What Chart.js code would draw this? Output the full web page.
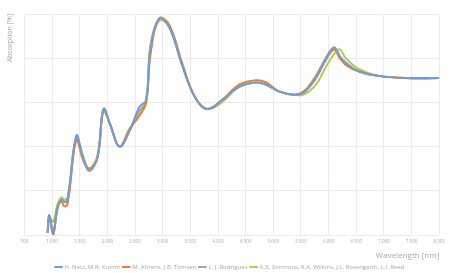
<!DOCTYPE html>
<html>
<head>
<meta charset="utf-8">
<script src="https://cdn.jsdelivr.net/npm/chart.js@4"></script>
<style>
  html, body { margin: 0; padding: 0; background: #fff; }
  #wrap { width: 449px; height: 273px; }
</style>
</head>
<body>
<div id="wrap"><canvas id="myChart"></canvas></div>
<script>
let xTicks = [500, 1000, 1500, 2000, 2500, 3000, 3500, 4000, 4500, 5000, 5500, 6000, 6500, 7000, 7500, 8000];
let seriesNames = [
  "H. Netz, M.R. Kumm",
  "M. Ahrens, J.B. Tomsen",
  "L. J. Rodrigues",
  "A.B. Simmons, R.A. Wilkins, J.L. Rosengarth, L.I. Reed",
];
let seriesColors = ["#6f9fd8", "#ed7d31", "#a5a5a5", "#b5cc4a"];

let wavelength = [920, 950, 1020, 1100, 1170, 1220, 1280, 1440, 1560, 1670, 1820, 1930, 2050, 2220, 2400, 2580, 2700, 2780, 2940, 3120, 3350, 3570, 3800, 4070, 4380, 4690, 4870, 5100, 5370, 5550, 5770, 5950, 6100, 6200, 6310, 6550, 6900, 7400, 8000];
let netzData = [1, 9, 1, 12, 16, 15, 16, 45, 35, 29, 35, 57, 50, 40, 47, 58, 61, 85, 98, 94, 77, 63, 57, 61, 67, 69, 68, 65, 63.5, 64.5, 71, 80, 85, 81, 78, 74, 72, 71, 71];
let ahrensData = [1, 9, 0, 13, 15, 13, 14, 43, 34, 30, 35, 56, 50, 40, 48, 54, 60, 82, 98, 95, 78, 63, 57, 61, 68, 70, 69, 65, 63.5, 65, 72, 80, 84, 80, 77, 74, 72, 71, 71];
let lopezData = [1, 9, 1, 12, 16, 15, 15, 44, 35, 30, 35, 57, 50, 40, 47, 56, 60, 83, 98, 94, 77, 63, 57, 61, 67, 69, 68, 65, 63.5, 64.5, 71, 79, 84, 81, 77, 74, 72, 71, 71];
let simmonsData = [2, 8, 6, 14, 17, 16, 17, 44, 36, 30, 36, 57, 50, 40, 48, 56, 61, 86, 97, 94, 77, 63, 57, 60, 67, 69, 68, 65, 63.5, 63.5, 68, 76, 82, 84, 80, 75, 72, 71, 71];

let allSeries = [netzData, ahrensData, lopezData, simmonsData];

function buildDatasets() {
  return allSeries.map(function (values, i) {
    return {
      label: seriesNames[i],
      data: values.map(function (v, j) {
        return { x: wavelength[j], y: v };
      }),
      borderColor: seriesColors[i],
      backgroundColor: seriesColors[i],
      borderWidth: 2,
      pointRadius: 0,
      tension: 0.4,
      fill: false,
    };
  });
}

let greyText = "#a8a8a8";
let gridColor = "#efe9e9";

new Chart(document.getElementById("myChart"), {
  type: "line",
  data: { datasets: buildDatasets() },
  options: {
    responsive: true,
    maintainAspectRatio: false,
    animation: false,
    layout: { padding: { left: 6, right: -5, top: 14, bottom: -7 } },
    scales: {
      x: {
        type: "linear",
        min: 500,
        max: 8000,
        afterBuildTicks: function (axis) {
          axis.ticks = xTicks.map(function (v) { return { value: v }; });
        },
        ticks: {
          color: greyText,
          font: { size: 4.5, family: "Open Sans" },
          padding: 4,
          maxRotation: 0,
          autoSkip: false,
          callback: function (v) { return v.toLocaleString("de-DE"); },
        },
        grid: { color: gridColor, drawTicks: false },
        border: { display: false },
        title: {
          display: true,
          text: "Wavelength [nm]",
          align: "end",
          color: greyText,
          font: { size: 8, family: "Open Sans" },
          padding: { top: 3, bottom: 0 },
        },
      },
      y: {
        min: 0,
        max: 100,
        ticks: { display: false, stepSize: 20 },
        grid: { color: gridColor, drawTicks: false },
        border: { display: false },
        title: {
          display: true,
          text: "Absorption [%]",
          align: "end",
          color: greyText,
          font: { size: 7, family: "Open Sans" },
          padding: { top: 0, bottom: 10 },
        },
      },
    },
    plugins: {
      legend: {
        position: "bottom",
        labels: {
          usePointStyle: true,
          pointStyle: "line",
          boxWidth: 16,
          padding: 3,
          color: greyText,
          font: { size: 6, family: "Open Sans" },
        },
      },
      tooltip: { enabled: false },
    },
  },
});
</script>
</body>
</html>
